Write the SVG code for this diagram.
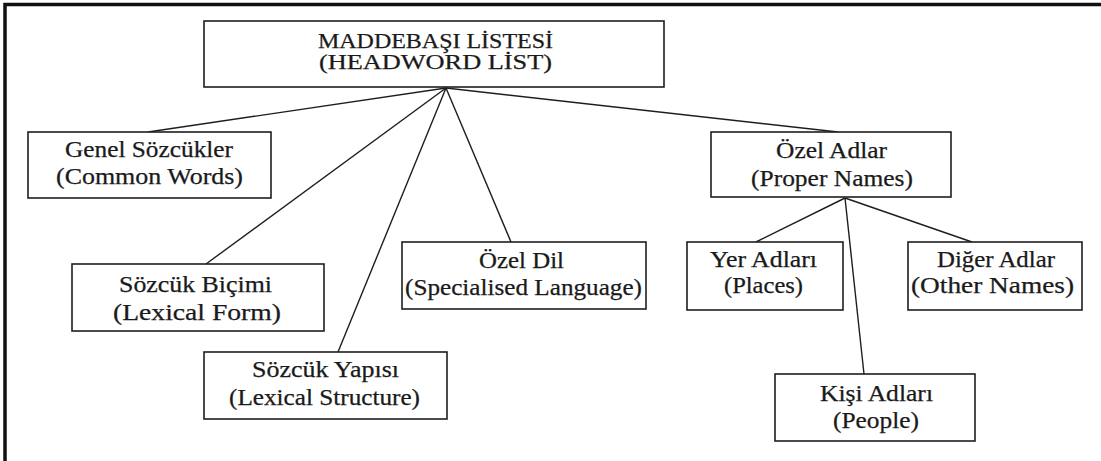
<svg xmlns="http://www.w3.org/2000/svg" width="1101" height="461" viewBox="0 0 1101 461">
<style>
.box{fill:#fff;stroke:#1e1e1e;stroke-width:1.6}
.t{font-family:"Liberation Serif","Times New Roman",serif;font-size:22.5px;fill:#1a1a1a;stroke:#1a1a1a;stroke-width:0.25;text-anchor:middle}
.top{font-size:20px}
.c{stroke:#1e1e1e;stroke-width:1.4;fill:none}
</style>
<rect width="1101" height="461" fill="#fff"/>
<path d="M5,461 V4.5 H1101" fill="none" stroke="#111" stroke-width="3.5"/>
<g id="connectors">
<line class="c" x1="446" y1="88" x2="148" y2="132"/>
<line class="c" x1="446" y1="88" x2="206" y2="264"/>
<line class="c" x1="446" y1="88" x2="338" y2="352"/>
<line class="c" x1="446" y1="88" x2="511" y2="242"/>
<line class="c" x1="446" y1="88" x2="838" y2="132"/>
<line class="c" x1="845" y1="198" x2="756" y2="242"/>
<line class="c" x1="845" y1="198" x2="864" y2="374"/>
<line class="c" x1="845" y1="198" x2="972" y2="242"/>
</g>
<g id="root">
<rect class="box" x="204" y="21" width="460" height="66"/>
<text class="t top" x="435.5" y="47.5" textLength="235" lengthAdjust="spacingAndGlyphs">MADDEBAŞI LİSTESİ</text>
<text class="t top" x="435.5" y="68.5" textLength="233" lengthAdjust="spacingAndGlyphs">(HEADWORD LİST)</text>
</g>
<g id="genel">
<rect class="box" x="28" y="132" width="243" height="66"/>
<text class="t" x="149" y="157" textLength="168" lengthAdjust="spacingAndGlyphs">Genel Sözcükler</text>
<text class="t" x="149.5" y="184" textLength="187" lengthAdjust="spacingAndGlyphs">(Common Words)</text>
</g>
<g id="bicim">
<rect class="box" x="72" y="264" width="252" height="67"/>
<text class="t" x="195.5" y="292" textLength="153" lengthAdjust="spacingAndGlyphs">Sözcük Biçimi</text>
<text class="t" x="197" y="320" textLength="168" lengthAdjust="spacingAndGlyphs">(Lexical Form)</text>
</g>
<g id="yapi">
<rect class="box" x="204" y="352" width="243" height="67"/>
<text class="t" x="325.5" y="377" textLength="147" lengthAdjust="spacingAndGlyphs">Sözcük Yapısı</text>
<text class="t" x="324.5" y="405" textLength="191" lengthAdjust="spacingAndGlyphs">(Lexical Structure)</text>
</g>
<g id="ozeldil">
<rect class="box" x="402" y="242" width="244" height="67"/>
<text class="t" x="521.5" y="268" textLength="85" lengthAdjust="spacingAndGlyphs">Özel Dil</text>
<text class="t" x="523.5" y="295" textLength="237" lengthAdjust="spacingAndGlyphs">(Specialised Language)</text>
</g>
<g id="ozeladlar">
<rect class="box" x="711" y="132" width="240" height="65"/>
<text class="t" x="831.5" y="158" textLength="111" lengthAdjust="spacingAndGlyphs">Özel Adlar</text>
<text class="t" x="832" y="186" textLength="162" lengthAdjust="spacingAndGlyphs">(Proper Names)</text>
</g>
<g id="yer">
<rect class="box" x="687" y="242" width="156" height="68"/>
<text class="t" x="763.5" y="267" textLength="107" lengthAdjust="spacingAndGlyphs">Yer Adları</text>
<text class="t" x="763.5" y="293" textLength="79" lengthAdjust="spacingAndGlyphs">(Places)</text>
</g>
<g id="diger">
<rect class="box" x="908" y="242" width="174" height="68"/>
<text class="t" x="996" y="267" textLength="118" lengthAdjust="spacingAndGlyphs">Diğer Adlar</text>
<text class="t" x="992.5" y="293" textLength="163" lengthAdjust="spacingAndGlyphs">(Other Names)</text>
</g>
<g id="kisi">
<rect class="box" x="775" y="374" width="200" height="67"/>
<text class="t" x="876.5" y="401" textLength="113" lengthAdjust="spacingAndGlyphs">Kişi Adları</text>
<text class="t" x="876" y="428" textLength="86" lengthAdjust="spacingAndGlyphs">(People)</text>
</g>
</svg>
